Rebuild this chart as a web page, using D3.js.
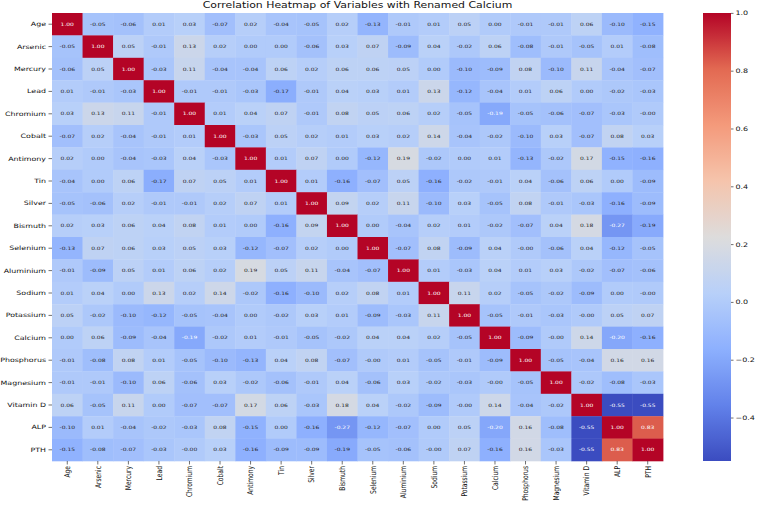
<!DOCTYPE html>
<meta charset="utf-8">
<script src="https://d3js.org/d3.v7.min.js"></script>
<style>
  body { margin: 0; background: #fff; }
  text { font-family: "DejaVu Sans", sans-serif; }
</style>
<div id="chart"></div>
<script>

// variable names, in row / column order
var variables = ["Age", "Arsenic", "Mercury", "Lead", "Chromium", "Cobalt", "Antimony", "Tin",
  "Silver", "Bismuth", "Selenium", "Aluminium", "Sodium", "Potassium", "Calcium",
  "Phosphorus", "Magnesium", "Vitamin D", "ALP", "PTH"];

// correlation matrix, one row per variable
var corr = [
  [1.00, -0.05, -0.06, 0.01, 0.03, -0.07, 0.02, -0.04, -0.05, 0.02, -0.13, -0.01, 0.01, 0.05, 0.00, -0.01, -0.01, 0.06, -0.10, -0.15],
  [-0.05, 1.00, 0.05, -0.01, 0.13, 0.02, 0.00, 0.00, -0.06, 0.03, 0.07, -0.09, 0.04, -0.02, 0.06, -0.08, -0.01, -0.05, 0.01, -0.08],
  [-0.06, 0.05, 1.00, -0.03, 0.11, -0.04, -0.04, 0.06, 0.02, 0.06, 0.06, 0.05, 0.00, -0.10, -0.09, 0.08, -0.10, 0.11, -0.04, -0.07],
  [0.01, -0.01, -0.03, 1.00, -0.01, -0.01, -0.03, -0.17, -0.01, 0.04, 0.03, 0.01, 0.13, -0.12, -0.04, 0.01, 0.06, 0.00, -0.02, -0.03],
  [0.03, 0.13, 0.11, -0.01, 1.00, 0.01, 0.04, 0.07, -0.01, 0.08, 0.05, 0.06, 0.02, -0.05, -0.194, -0.05, -0.06, -0.07, -0.03, -0.003],
  [-0.07, 0.02, -0.04, -0.01, 0.01, 1.00, -0.03, 0.05, 0.02, 0.01, 0.03, 0.02, 0.14, -0.04, -0.02, -0.10, 0.03, -0.07, 0.08, 0.03],
  [0.02, 0.00, -0.04, -0.03, 0.04, -0.03, 1.00, 0.01, 0.07, 0.00, -0.12, 0.19, -0.02, 0.00, 0.01, -0.13, -0.02, 0.17, -0.15, -0.16],
  [-0.04, 0.00, 0.06, -0.17, 0.07, 0.05, 0.01, 1.00, 0.01, -0.16, -0.07, 0.05, -0.16, -0.02, -0.01, 0.04, -0.06, 0.06, 0.00, -0.09],
  [-0.05, -0.06, 0.02, -0.01, -0.01, 0.02, 0.07, 0.01, 1.00, 0.09, 0.02, 0.11, -0.10, 0.03, -0.05, 0.08, -0.01, -0.03, -0.16, -0.09],
  [0.02, 0.03, 0.06, 0.04, 0.08, 0.01, 0.00, -0.16, 0.09, 1.00, 0.00, -0.04, 0.02, 0.01, -0.02, -0.07, 0.04, 0.18, -0.27, -0.186],
  [-0.13, 0.07, 0.06, 0.03, 0.05, 0.03, -0.12, -0.07, 0.02, 0.00, 1.00, -0.07, 0.08, -0.09, 0.04, -0.003, -0.06, 0.04, -0.12, -0.05],
  [-0.01, -0.09, 0.05, 0.01, 0.06, 0.02, 0.19, 0.05, 0.11, -0.04, -0.07, 1.00, 0.01, -0.03, 0.04, 0.01, 0.03, -0.02, -0.07, -0.06],
  [0.01, 0.04, 0.00, 0.13, 0.02, 0.14, -0.02, -0.16, -0.10, 0.02, 0.08, 0.01, 1.00, 0.11, 0.02, -0.05, -0.02, -0.09, 0.00, -0.003],
  [0.05, -0.02, -0.10, -0.12, -0.05, -0.04, 0.00, -0.02, 0.03, 0.01, -0.09, -0.03, 0.11, 1.00, -0.05, -0.01, -0.03, -0.003, 0.05, 0.07],
  [0.00, 0.06, -0.09, -0.04, -0.194, -0.02, 0.01, -0.01, -0.05, -0.02, 0.04, 0.04, 0.02, -0.05, 1.00, -0.09, -0.003, 0.14, -0.20, -0.16],
  [-0.01, -0.08, 0.08, 0.01, -0.05, -0.10, -0.13, 0.04, 0.08, -0.07, -0.003, 0.01, -0.05, -0.01, -0.09, 1.00, -0.05, -0.04, 0.16, 0.16],
  [-0.01, -0.01, -0.10, 0.06, -0.06, 0.03, -0.02, -0.06, -0.01, 0.04, -0.06, 0.03, -0.02, -0.03, -0.003, -0.05, 1.00, -0.02, -0.08, -0.03],
  [0.06, -0.05, 0.11, 0.00, -0.07, -0.07, 0.17, 0.06, -0.03, 0.18, 0.04, -0.02, -0.09, -0.003, 0.14, -0.04, -0.02, 1.00, -0.55, -0.55],
  [-0.10, 0.01, -0.04, -0.02, -0.03, 0.08, -0.15, 0.00, -0.16, -0.27, -0.12, -0.07, 0.00, 0.05, -0.20, 0.16, -0.08, -0.55, 1.00, 0.83],
  [-0.15, -0.08, -0.07, -0.03, -0.003, 0.03, -0.16, -0.09, -0.09, -0.186, -0.05, -0.06, -0.003, 0.07, -0.16, 0.16, -0.03, -0.55, 0.83, 1.00]
];

var colorbarTicks = [-0.4, -0.2, 0.0, 0.2, 0.4, 0.6, 0.8, 1.0];

// the picture is squeezed vertically, so draw in "upright" units and scale y
var sy = 0.76;
var gridLeft = 52, gridRight = 663, gridTop = 13 / sy, gridBottom = 461 / sy;

// matplotlib "coolwarm" approximated by 9 stops
var coolwarm = d3.piecewise(d3.interpolateRgb,
  ["#3b4cc0", "#6282ea", "#8db0fe", "#b8d0f9", "#dddcdc", "#f5c4ac", "#f49a7b", "#e26952", "#b40426"]);

var vmin = d3.min(corr, function(r) { return d3.min(r); });
var vmax = d3.max(corr, function(r) { return d3.max(r); });
var color = d3.scaleSequential(coolwarm).domain([vmin, vmax]);

var x = d3.scaleBand().domain(variables).range([gridLeft, gridRight]);
var y = d3.scaleBand().domain(variables).range([gridTop, gridBottom]);

var svg = d3.select("#chart").append("svg")
    .attr("width", 758)
    .attr("height", 505);

var root = svg.append("g")
    .attr("transform", "scale(1," + sy + ")");

var cells = [];
corr.forEach(function(row, i) {
  row.forEach(function(v, j) {
    cells.push({row: variables[i], col: variables[j], value: v});
  });
});

// seaborn picks annotation colour from the cell luminance
function luminance(c) {
  var rgb = d3.rgb(c);
  var lin = [rgb.r, rgb.g, rgb.b].map(function(v) {
    v = v / 255;
    return v <= 0.03928 ? v / 12.92 : Math.pow((v + 0.055) / 1.055, 2.4);
  });
  return 0.2126 * lin[0] + 0.7152 * lin[1] + 0.0722 * lin[2];
}

root.append("g").selectAll("rect")
  .data(cells)
  .join("rect")
    .attr("x", function(d) { return x(d.col); })
    .attr("y", function(d) { return y(d.row); })
    .attr("width", x.bandwidth() + 0.4)
    .attr("height", y.bandwidth() + 0.4)
    .attr("fill", function(d) { return color(d.value); });

root.append("g").selectAll("text")
  .data(cells)
  .join("text")
    .attr("x", function(d) { return x(d.col) + x.bandwidth() / 2; })
    .attr("y", function(d) { return y(d.row) + y.bandwidth() / 2; })
    .attr("dy", "0.36em")
    .attr("text-anchor", "middle")
    .attr("font-size", "6px")
    .attr("fill", function(d) { return luminance(color(d.value)) > 0.408 ? "#262626" : "#fff"; })
    .text(function(d) { return d.value.toFixed(2); });

// Y AXIS
var yAxis = root.append("g")
    .attr("transform", "translate(" + gridLeft + ",0)")
    .call(d3.axisLeft(y).tickSize(3.5).tickPadding(2.5));
yAxis.select(".domain").remove();
yAxis.selectAll("line").attr("stroke", "#333").attr("stroke-width", 0.8);
yAxis.selectAll("text")
    .attr("font-size", "7.9px")
    .attr("fill", "#111");

// X AXIS
var xAxis = root.append("g")
    .attr("transform", "translate(0," + gridBottom + ")")
    .call(d3.axisBottom(x).tickSize(3.5 / sy));
xAxis.select(".domain").remove();
xAxis.selectAll("line").attr("stroke", "#333").attr("stroke-width", 0.8);
xAxis.selectAll("text")
    .attr("transform", "rotate(-90)")
    .attr("text-anchor", "end")
    .attr("x", -5 / sy)
    .attr("y", 0)
    .attr("dy", "0.35em")
    .attr("font-size", "7.9px")
    .attr("fill", "#111");

// COLORBAR
var grad = svg.append("defs").append("linearGradient")
    .attr("id", "cbar")
    .attr("x1", 0).attr("y1", 0).attr("x2", 0).attr("y2", 1);
d3.range(0, 41).forEach(function(i) {
  grad.append("stop")
    .attr("offset", (i / 40 * 100) + "%")
    .attr("stop-color", color(vmax - i / 40 * (vmax - vmin)));
});

var cb = d3.scaleLinear().domain([vmin, vmax]).range([gridBottom, gridTop]);

root.append("rect")
    .attr("x", 703)
    .attr("y", gridTop)
    .attr("width", 28)
    .attr("height", gridBottom - gridTop)
    .attr("fill", "url(#cbar)");

var cAxis = root.append("g")
    .attr("transform", "translate(731,0)")
    .call(d3.axisRight(cb).tickValues(colorbarTicks).tickSize(2.5).tickPadding(2)
      .tickFormat(d3.format(".1f")));
cAxis.select(".domain").remove();
cAxis.selectAll("line").attr("stroke", "#333").attr("stroke-width", 0.8);
cAxis.selectAll("text")
    .attr("font-size", "8px")
    .attr("fill", "#111");

// TITLE
root.append("text")
    .attr("x", (gridLeft + gridRight) / 2)
    .attr("y", 7.8 / sy)
    .attr("text-anchor", "middle")
    .attr("font-size", "10.9px")
    .attr("fill", "#111")
    .text("Correlation Heatmap of Variables with Renamed Calcium");

</script>
